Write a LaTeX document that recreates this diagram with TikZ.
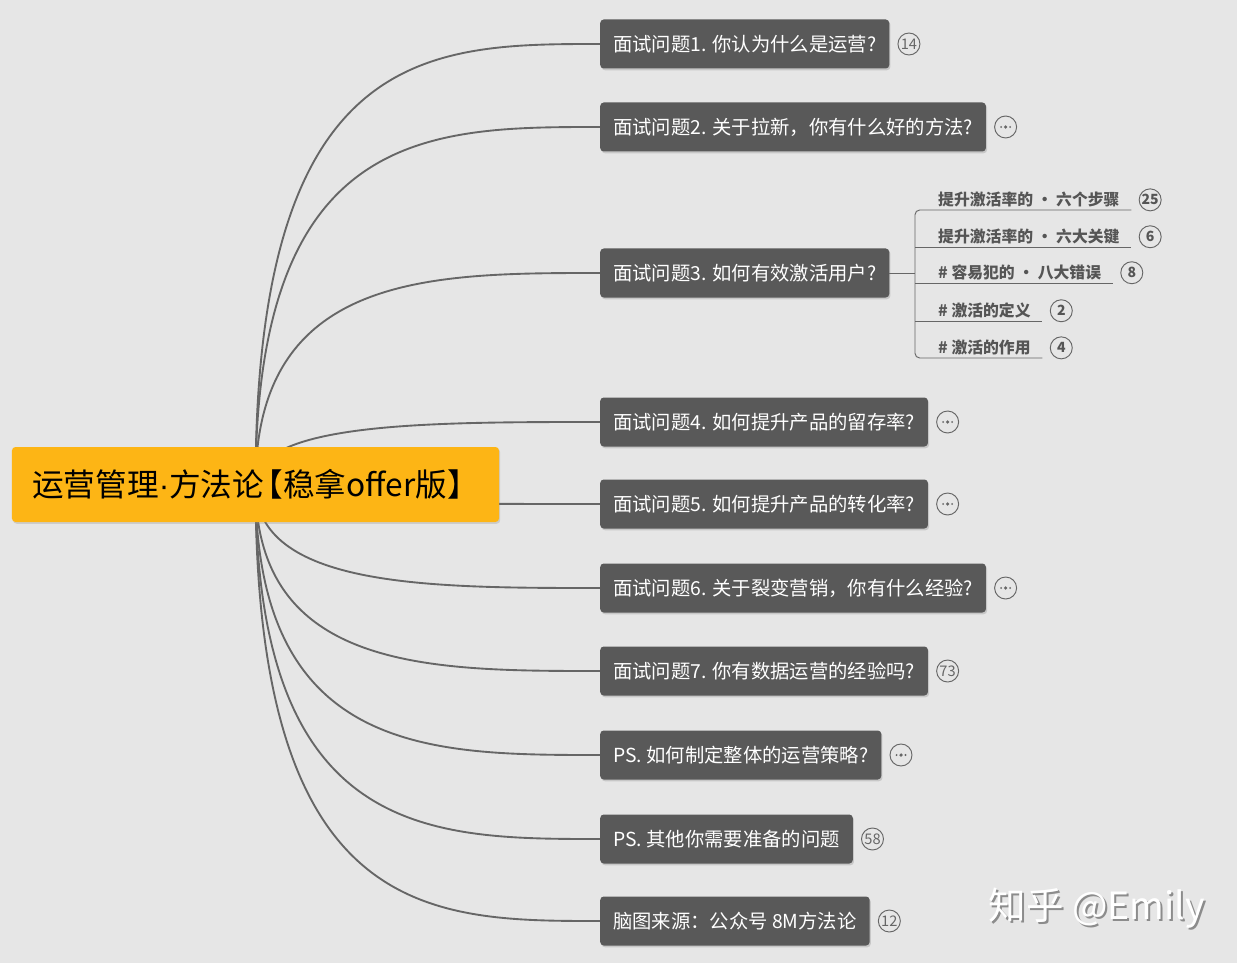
\documentclass[tikz,border=0pt]{standalone}
\usepackage{fontspec}
\setmainfont{Noto Sans CJK SC}
\newfontfamily\latinfont{Liberation Sans}
\usepackage{xcolor}
\usetikzlibrary{positioning,calc,shadows,backgrounds}
\definecolor{pagegrey}{HTML}{E6E6E6}
\definecolor{boxgrey}{HTML}{595959}
\definecolor{linegrey}{HTML}{666666}
\definecolor{subgrey}{HTML}{555555}
\definecolor{rootorange}{HTML}{FDB515}
\pgfdeclarelayer{edges}
\pgfsetlayers{background,edges,main}

\begin{document}
\begin{tikzpicture}[x=0.03cm, y=-0.03cm,
  root/.style={fill=rootorange, rounded corners=3pt, minimum width=14.61cm, minimum height=2.25cm,
    font=\fontsize{27}{32}\selectfont, drop shadow={opacity=0.25, shadow xshift=1pt, shadow yshift=-1.5pt}},
  topic/.style={fill=boxgrey, text=white, rounded corners=3pt, minimum height=1.47cm, inner xsep=0.39cm,
    anchor=west, font=\fontsize{16.5}{20}\selectfont, drop shadow={opacity=0.3, shadow xshift=1pt, shadow yshift=-1.5pt}},
  conn/.style={draw=linegrey, line width=1.6pt},
  subline/.style={draw=linegrey, line width=0.8pt},
  sub/.style={anchor=south west, inner xsep=0pt, inner ysep=2pt, text=subgrey, font=\fontsize{13.5}{16}\selectfont\bfseries},
  badge/.style={circle, draw=linegrey, line width=0.8pt, minimum size=0.66cm, inner sep=0pt, text=linegrey,
    font=\fontsize{12.5}{12.5}\selectfont},
  subbadge/.style={badge, text=subgrey, font=\fontsize{12}{12}\selectfont\bfseries}]
  \begin{pgfonlayer}{background}
    \fill[pagegrey] (0,0) rectangle (1237,963);
  \end{pgfonlayer}
  \useasboundingbox (0,0) rectangle (1237,963);

  \node[root] (root) at (255.5,484.5)
    {运营管理{\latinfont·}方法论\hspace{-0.4em}【稳拿offer版】\hspace{-0.4em}};

  \foreach \y/\t [count=\i] in {44/{面试问题1. 你认为什么是运营?},
      127/{面试问题2. 关于拉新，你有什么好的方法?},
      273/{面试问题3. 如何有效激活用户?},
      422/{面试问题4. 如何提升产品的留存率?},
      504/{面试问题5. 如何提升产品的转化率?},
      588/{面试问题6. 关于裂变营销，你有什么经验?},
      671/{面试问题7. 你有数据运营的经验吗?},
      755/{PS. 如何制定整体的运营策略?},
      839/{PS. 其他你需要准备的问题},
      921/{脑图来源：公众号 8M方法论}}
    \node[topic] (c\i) at (600,\y) {\t};

  \foreach \i/\b in {1/14,7/73,9/58,10/12}
    \node[badge, right=0.24cm of c\i] (n\i) {\b};
  \foreach \i in {2,4,5,6,8} {
    \node[badge, right=0.24cm of c\i] (m\i) {};
    \fill[linegrey] (m\i.center) circle (1.5pt)
      ([xshift=-3.8pt]m\i.center) circle (0.9pt) ([xshift=3.8pt]m\i.center) circle (0.9pt);
  }

  \begin{pgfonlayer}{edges}
    \foreach \i in {1,...,10}
      \draw[conn] (root.center) .. controls (root.center |- c\i.west) and ($(c\i.west)+(-170,0)$) .. (c\i.west);
  \end{pgfonlayer}

  % children of question 3
  \foreach \y/\t/\b [count=\i] in {210/{提升激活率的 • 六个步骤}/25,
      247/{提升激活率的 • 六大关键}/6,
      283/{\# 容易犯的 • 八大错误}/8,
      321/{\# 激活的定义}/2,
      358/{\# 激活的作用}/4} {
    \node[sub] (s\i) at (938,\y) {\t};
    \coordinate (b\i) at ([xshift=-0.69cm]s\i.south west);
    \coordinate (e\i) at ([xshift=0.35cm]s\i.south east);
    \node[subbadge, right=0.57cm of s\i] (k\i) {\b};
  }
  \draw[subline] (c3.east) -- (b1 |- c3.east);
  \draw[subline, rounded corners=4pt] (e1) -- (b1) -- (b5) -- (e5);
  \foreach \i in {2,3,4}
    \draw[subline] (b\i) -- (e\i);

  \node[text=black!45, font=\fontsize{32}{36}\selectfont] (wmshade) at (1099,910) {知乎 @Emily};
  \node[text=white, font=\fontsize{32}{36}\selectfont] (wm) at (1097,908) {知乎 @Emily};
\end{tikzpicture}
\end{document}
